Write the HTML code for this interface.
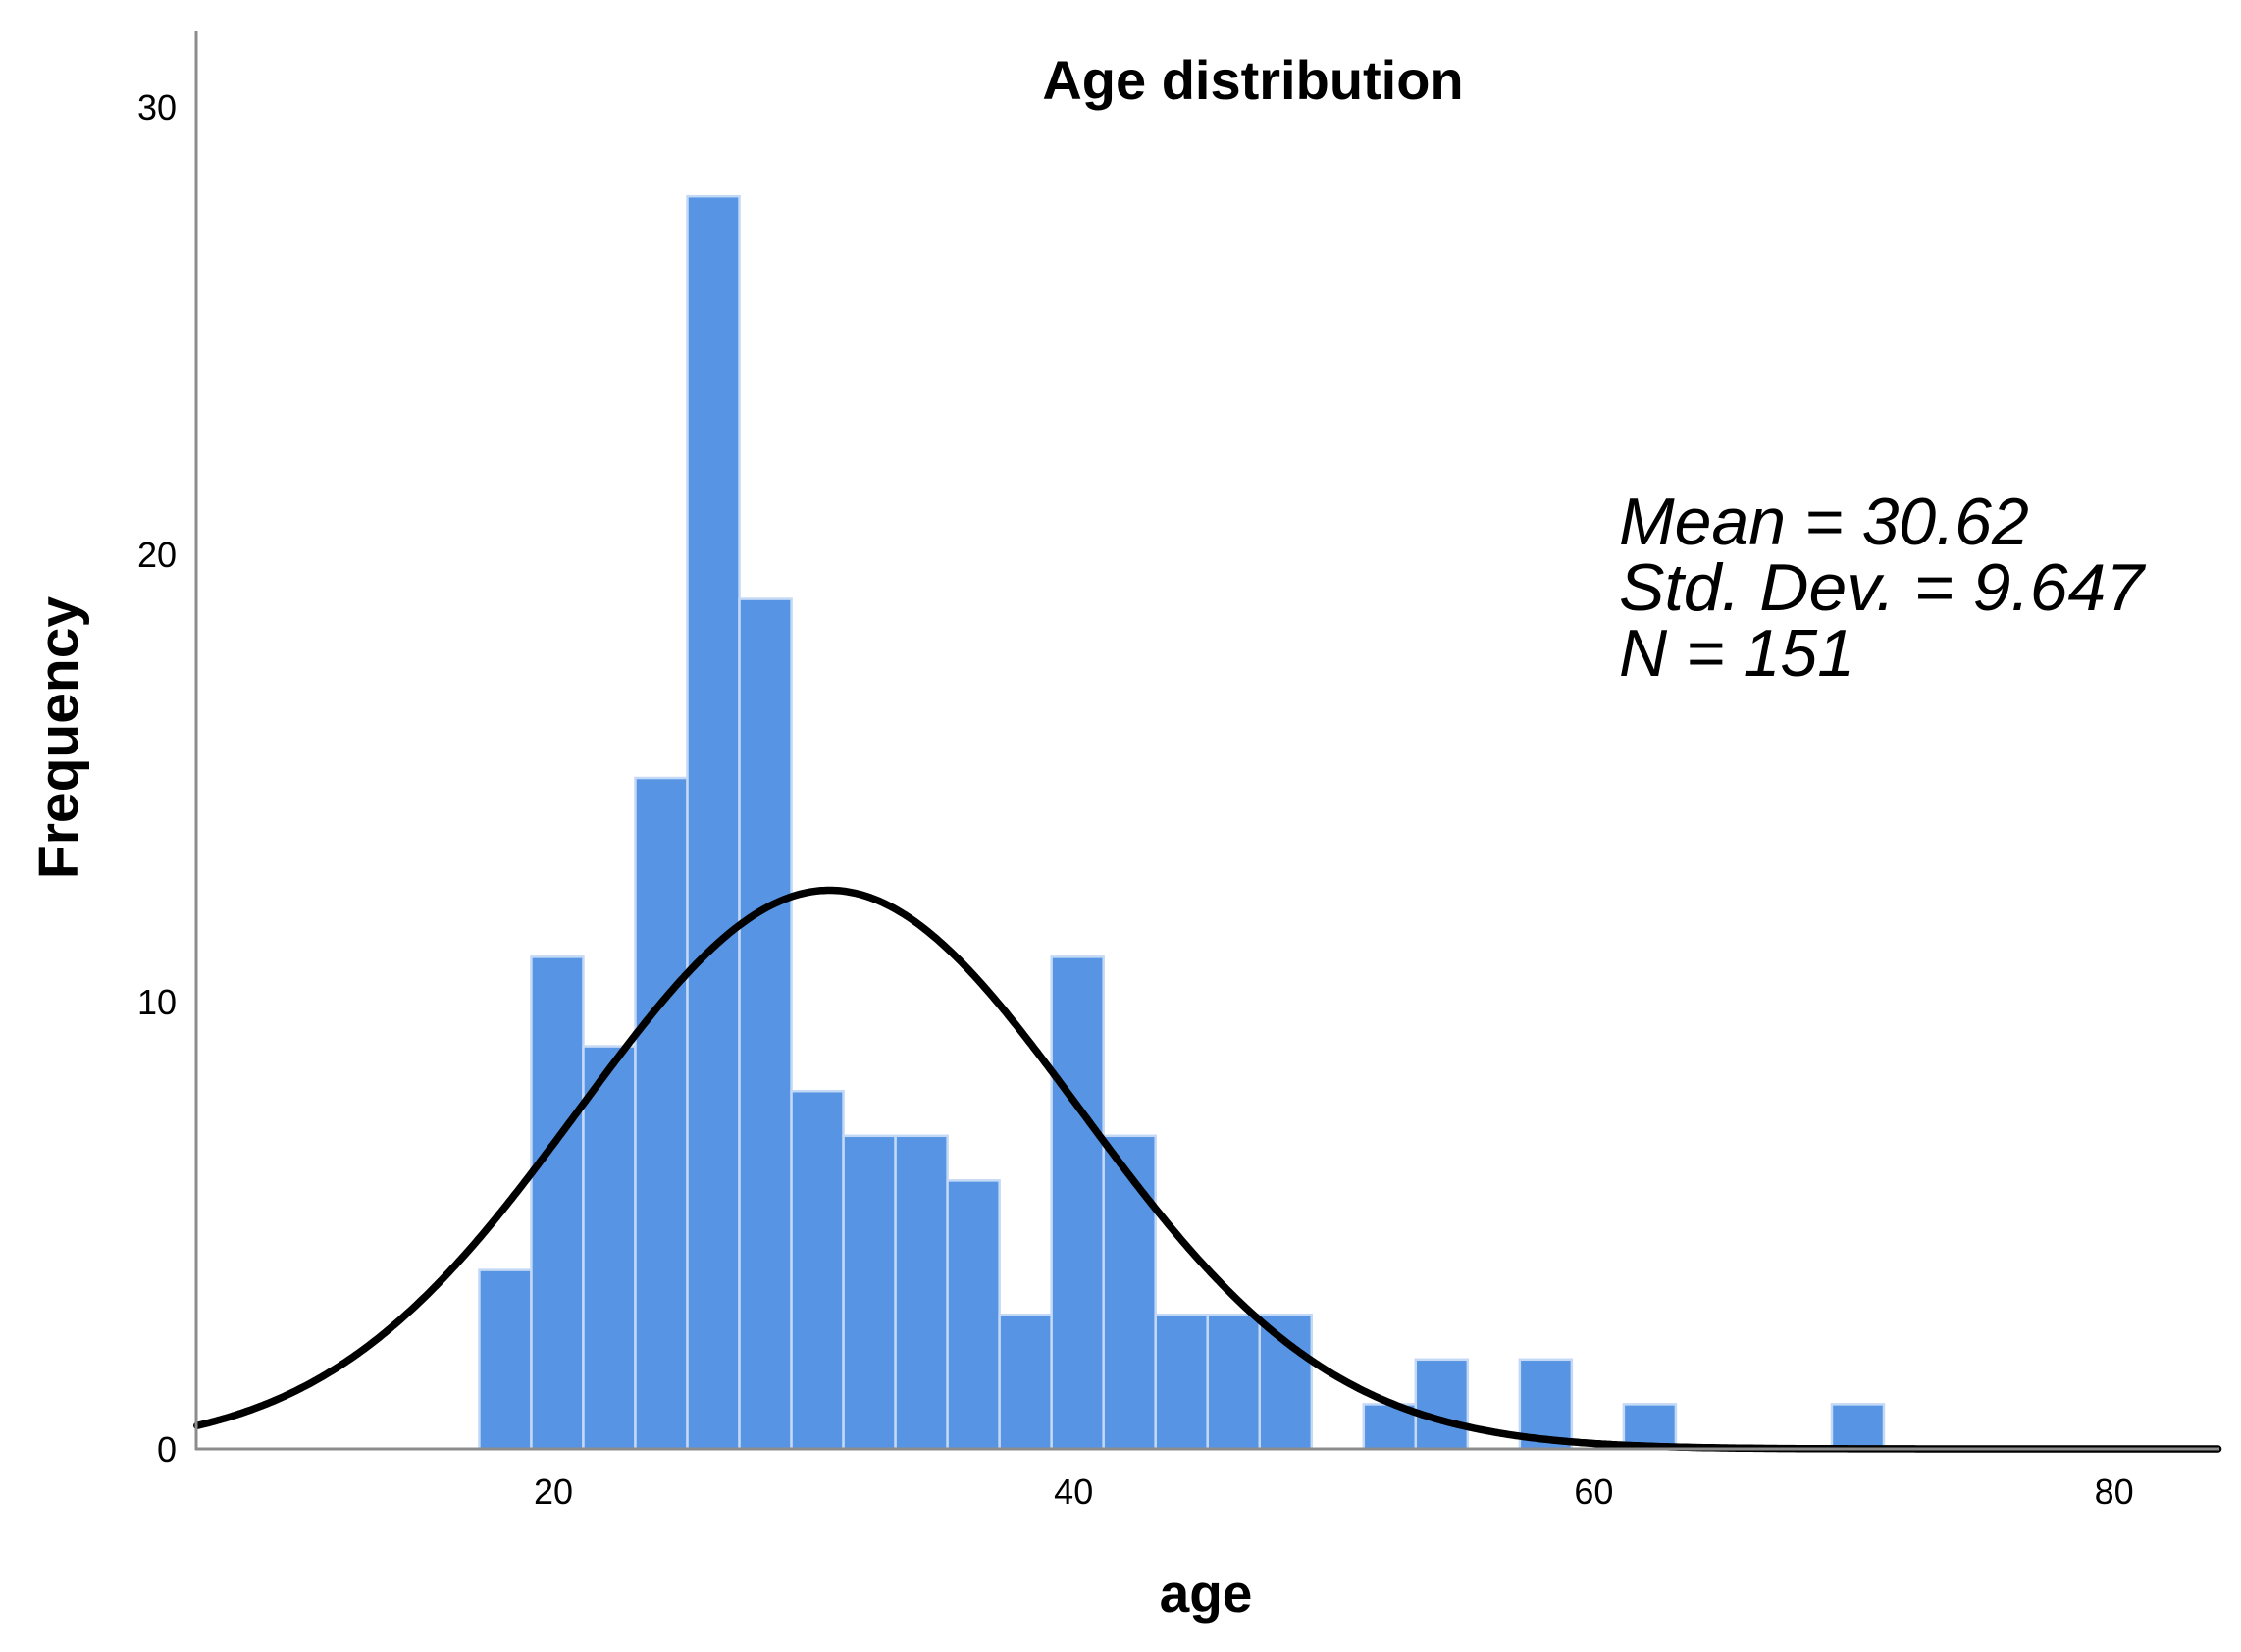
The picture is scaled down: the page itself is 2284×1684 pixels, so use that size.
<!DOCTYPE html>
<html><head><meta charset="utf-8"><style>
html,body{margin:0;padding:0;background:#fff;}
svg{display:block;}
text{font-family:"Liberation Sans",sans-serif;fill:#000;}
</style></head><body>
<svg id="chart" width="2284" height="1684" viewBox="0 0 2284 1684" xmlns="http://www.w3.org/2000/svg">
<g id="bars"></g>
<path id="curve" fill="none" stroke="#000" stroke-width="7.5" stroke-linejoin="round" stroke-linecap="round"/>
<line x1="200" y1="32" x2="200" y2="1478" stroke="#8c8c8c" stroke-width="3"/>
<line x1="199" y1="1477" x2="2262" y2="1477" stroke="#8c8c8c" stroke-width="3"/>
<g id="yticks"></g>
<g id="xticks"></g>
<text x="1277" y="101" font-size="56" font-weight="bold" text-anchor="middle">Age distribution</text>
<text transform="translate(79,752) rotate(-90)" font-size="57" font-weight="bold" text-anchor="middle">Frequency</text>
<text x="1229" y="1643" font-size="55" font-weight="bold" text-anchor="middle">age</text>
<g font-size="68" font-style="italic">
<text x="1650" y="555">Mean = 30.62</text>
<text x="1650" y="622" textLength="535" lengthAdjust="spacingAndGlyphs">Std. Dev. = 9.647</text>
<text x="1650" y="689">N = 151</text>
</g>
</svg>
<script>
const binCounts = [4,11,9,15,28,19,8,7,7,6,3,11,7,3,3,3,0,1,2,0,2,0,1,0,0,0,1];
const binStart = 17.15;
const binWidth = 2;
const yTicks = [0,10,20,30];
const xTicks = [20,40,60,80];
const meanVal = 30.62;
const sdVal = 9.647;
const nVal = 151;

const NS='http://www.w3.org/2000/svg';
function xs(v){return 564+(v-20)*26.51;}
function ys(v){return 1477-v*45.6;}

const bg=document.getElementById('bars');
binCounts.forEach((c,i)=>{
  if(c<=0) return;
  const x0=xs(binStart+i*binWidth), x1=xs(binStart+(i+1)*binWidth);
  const r=document.createElementNS(NS,'rect');
  
  
  r.setAttribute('x',x0);r.setAttribute('y',ys(c));
  r.setAttribute('width',x1-x0);r.setAttribute('height',ys(0)-ys(c));
  r.setAttribute('fill','#5795e4');r.setAttribute('stroke','#c4d9f5');r.setAttribute('stroke-width','2.5');
  bg.appendChild(r);
});

let d='';
const k=nVal*binWidth/(sdVal*Math.sqrt(2*Math.PI));
for(let v=6.3;v<=84.01;v+=0.1){
  const f=k*Math.exp(-0.5*Math.pow((v-meanVal)/sdVal,2));
  d+=(d?'L':'M')+xs(v).toFixed(1)+','+ys(f).toFixed(1);
}
document.getElementById('curve').setAttribute('d',d);

const yg=document.getElementById('yticks');
yTicks.forEach(t=>{
  const e=document.createElementNS(NS,'text');
  
  
  e.setAttribute('x',180);e.setAttribute('y',ys(t)+13);
  e.setAttribute('font-size','36');e.setAttribute('text-anchor','end');
  e.textContent=t;yg.appendChild(e);
});
const xg=document.getElementById('xticks');
xTicks.forEach(t=>{
  const e=document.createElementNS(NS,'text');
  
  
  e.setAttribute('x',xs(t));e.setAttribute('y',1533);
  e.setAttribute('font-size','36');e.setAttribute('text-anchor','middle');
  e.textContent=t;xg.appendChild(e);
});
</script>
</body></html>
